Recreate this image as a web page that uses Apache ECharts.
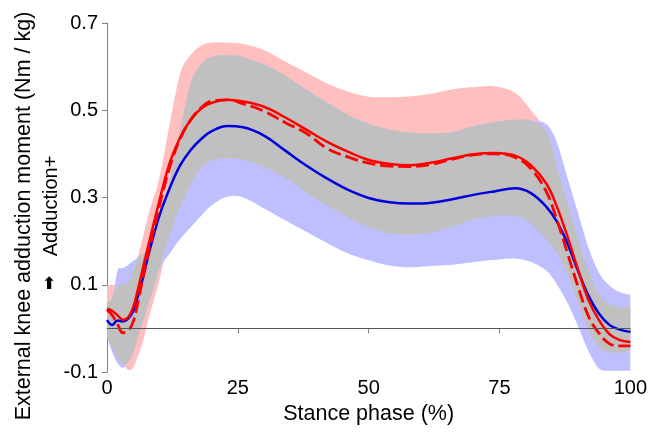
<!DOCTYPE html>
<html>
<head>
<meta charset="utf-8">
<script src="https://cdn.jsdelivr.net/npm/echarts@6/dist/echarts.min.js"></script>
<style>
  html, body { margin: 0; padding: 0; background: #fff; }
  #chart { width: 650px; height: 432px; }
</style>
</head>
<body>
<div id="chart"></div>
<script>
// stance phase (%) sample points
const phase = [0, 1, 2, 3, 4, 5, 6, 7, 8, 10, 12, 14, 16, 18, 20, 23, 26, 30, 34, 38,
  42, 46, 50, 54, 58, 62, 66, 70, 74, 78, 81, 84, 86, 88, 90, 92, 94, 96, 98, 100]

// blue group: mean, upper / lower band
const blueMean = [0.019, 0.008, 0.018, 0.016, 0.022, 0.040, 0.078, 0.122, 0.172, 0.258,
  0.322, 0.374, 0.409, 0.434, 0.452, 0.464, 0.461, 0.442, 0.408, 0.374,
  0.344, 0.318, 0.299, 0.289, 0.286, 0.288, 0.296, 0.306, 0.314, 0.321,
  0.310, 0.278, 0.244, 0.194, 0.132, 0.075, 0.034, 0.008, -0.003, -0.008]
const blueUpper = [0.060, 0.068, 0.132, 0.138, 0.145, 0.155, 0.163, 0.172, 0.187, 0.255,
  0.340, 0.455, 0.562, 0.605, 0.623, 0.626, 0.622, 0.605, 0.580, 0.548,
  0.518, 0.490, 0.469, 0.456, 0.449, 0.447, 0.450, 0.463, 0.473, 0.478,
  0.476, 0.468, 0.425, 0.345, 0.265, 0.185, 0.128, 0.098, 0.083, 0.077]
const blueLower = [-0.020, -0.055, -0.080, -0.090, -0.078, -0.057, -0.015, 0.020, 0.060, 0.135,
  0.172, 0.205, 0.232, 0.258, 0.282, 0.302, 0.300, 0.275, 0.248, 0.222,
  0.196, 0.172, 0.156, 0.144, 0.140, 0.143, 0.146, 0.152, 0.157, 0.160,
  0.152, 0.132, 0.100, 0.058, 0.005, -0.052, -0.092, -0.097, -0.097, -0.097]

// red group: solid mean, dashed mean, upper / lower band
const redMean = [0.045, 0.040, 0.030, 0.020, 0.025, 0.048, 0.094, 0.146, 0.195, 0.292,
  0.380, 0.438, 0.478, 0.504, 0.517, 0.524, 0.520, 0.508, 0.484, 0.456,
  0.428, 0.405, 0.386, 0.377, 0.374, 0.380, 0.390, 0.399, 0.402, 0.396,
  0.374, 0.331, 0.278, 0.210, 0.135, 0.065, 0.019, -0.013, -0.027, -0.031]
const redDashed = [0.043, 0.030, 0.010, -0.010, -0.006, 0.015, 0.065, 0.124, 0.178, 0.280,
  0.370, 0.435, 0.478, 0.506, 0.521, 0.524, 0.515, 0.498, 0.472, 0.448,
  0.413, 0.393, 0.379, 0.372, 0.371, 0.376, 0.388, 0.398, 0.400, 0.392,
  0.366, 0.312, 0.247, 0.172, 0.096, 0.028, -0.011, -0.035, -0.040, -0.040]
const redUpper = [0.098, 0.100, 0.098, 0.100, 0.105, 0.130, 0.170, 0.215, 0.265, 0.345,
  0.470, 0.585, 0.627, 0.648, 0.655, 0.655, 0.652, 0.638, 0.612, 0.587,
  0.562, 0.543, 0.531, 0.530, 0.532, 0.538, 0.548, 0.553, 0.555, 0.540,
  0.500, 0.450, 0.368, 0.288, 0.208, 0.133, 0.077, 0.055, 0.049, 0.048]
const redLower = [-0.020, -0.045, -0.070, -0.082, -0.095, -0.090, -0.060, -0.024, 0.025, 0.110,
  0.215, 0.278, 0.330, 0.368, 0.385, 0.390, 0.386, 0.370, 0.345, 0.312,
  0.282, 0.255, 0.232, 0.218, 0.214, 0.220, 0.233, 0.250, 0.257, 0.258,
  0.240, 0.203, 0.172, 0.125, 0.060, -0.003, -0.043, -0.055, -0.056, -0.050]

const xTicks = [0, 25, 50, 75, 100]
const yTicks = [-0.1, 0.1, 0.3, 0.5, 0.7]

const FONT = '"Liberation Sans", Arial, sans-serif'

// overlap of the two bands (drawn grey)
const overlapLower = phase.map((_, i) => Math.max(redLower[i], blueLower[i]))
const overlapUpper = phase.map((_, i) => Math.min(redUpper[i], blueUpper[i]))

const pairs = arr => phase.map((x, i) => [x, arr[i]])

// catmull-rom through pixel points, just for a smooth outline
function smoothPts(pts, steps) {
  const out = []
  const n = pts.length
  for (let i = 0; i < n - 1; i++) {
    const p0 = pts[Math.max(i - 1, 0)], p1 = pts[i], p2 = pts[i + 1], p3 = pts[Math.min(i + 2, n - 1)]
    for (let s = 0; s < steps; s++) {
      const t = s / steps, t2 = t * t, t3 = t2 * t
      out.push([0, 1].map(k => 0.5 * (2 * p1[k] + (p2[k] - p0[k]) * t +
        (2 * p0[k] - 5 * p1[k] + 4 * p2[k] - p3[k]) * t2 +
        (3 * p1[k] - p0[k] - 3 * p2[k] + p3[k]) * t3)))
    }
  }
  out.push(pts[n - 1])
  return out
}

// a filled band between two arrays, one polygon
function band(name, lower, upper, color) {
  return {
    name: name, type: 'custom', silent: true,
    data: phase.map((x, i) => [x, lower[i], upper[i]]),
    encode: { x: 0, y: [1, 2] },
    renderItem: (params, api) => {
      if (params.dataIndex !== 0) return null
      const top = smoothPts(phase.map((x, i) => api.coord([x, upper[i]])), 8)
      const bot = smoothPts(phase.map((x, i) => api.coord([x, lower[i]])), 8)
      return {
        type: 'polygon',
        shape: { points: top.concat(bot.reverse()) },
        style: { fill: color }
      }
    }
  }
}

const chart = echarts.init(document.getElementById('chart'))

chart.setOption({
  animation: false,
  grid: { left: 107, right: 15, top: 23, bottom: 60 },
  xAxis: {
    type: 'value', min: xTicks[0], max: xTicks[xTicks.length - 1], interval: 25,
    name: 'Stance phase (%)', nameLocation: 'middle', nameGap: 25,
    nameTextStyle: { color: '#000', fontSize: 21.5, fontFamily: FONT },
    axisLine: { lineStyle: { color: '#808080', width: 1 } },
    axisTick: { show: true, length: 5, lineStyle: { color: '#808080' } },
    axisLabel: { color: '#000', fontSize: 20, fontFamily: FONT, margin: 6 },
    splitLine: { show: false }
  },
  yAxis: {
    type: 'value', min: yTicks[0], max: yTicks[yTicks.length - 1], interval: 0.2,
    axisLine: { show: true, lineStyle: { color: '#808080', width: 1 } },
    axisTick: { show: true, length: 5, lineStyle: { color: '#808080' } },
    axisLabel: {
      color: '#000', fontSize: 20, fontFamily: FONT, margin: 9,
      formatter: v => v.toFixed(1)
    },
    splitLine: { show: false }
  },
  graphic: [
    {
      type: 'text', x: 24, y: 216, rotation: Math.PI / 2,
      style: {
        text: 'External knee adduction moment (Nm / kg)',
        font: '21.5px ' + FONT, fill: '#000',
        textAlign: 'center', textVerticalAlign: 'middle'
      }
    },
    {
      type: 'text', x: 51, y: 206, rotation: Math.PI / 2,
      style: {
        text: 'Adduction+', font: '20px ' + FONT, fill: '#000',
        textAlign: 'center', textVerticalAlign: 'middle'
      }
    },
    {
      type: 'text', x: 49, y: 285,
      style: {
        text: '⬆', font: 'bold 17px "DejaVu Sans"', fill: '#000',
        textAlign: 'center', textVerticalAlign: 'middle'
      }
    }
  ],
  series: [
    band('red band', redLower, redUpper, '#ffbfbf'),
    band('blue band', blueLower, blueUpper, '#bfbfff'),
    band('overlap', overlapLower, overlapUpper, '#c0c0c0'),
    {
      name: 'zero', type: 'line', data: [], silent: true,
      markLine: {
        silent: true, symbol: 'none', label: { show: false },
        lineStyle: { color: '#555', width: 1, type: 'solid' },
        data: [{ yAxis: 0 }]
      }
    },
    {
      name: 'blue mean', type: 'line', smooth: 0.4, symbol: 'none',
      lineStyle: { color: '#0000dd', width: 2.5 },
      data: pairs(blueMean)
    },
    {
      name: 'red dashed', type: 'line', smooth: 0.4, symbol: 'none',
      lineStyle: { color: '#ff0000', width: 2.8, type: [13, 5] },
      data: pairs(redDashed)
    },
    {
      name: 'red mean', type: 'line', smooth: 0.4, symbol: 'none',
      lineStyle: { color: '#ff0000', width: 2.5 },
      data: pairs(redMean)
    }
  ]
})
</script>
</body>
</html>
